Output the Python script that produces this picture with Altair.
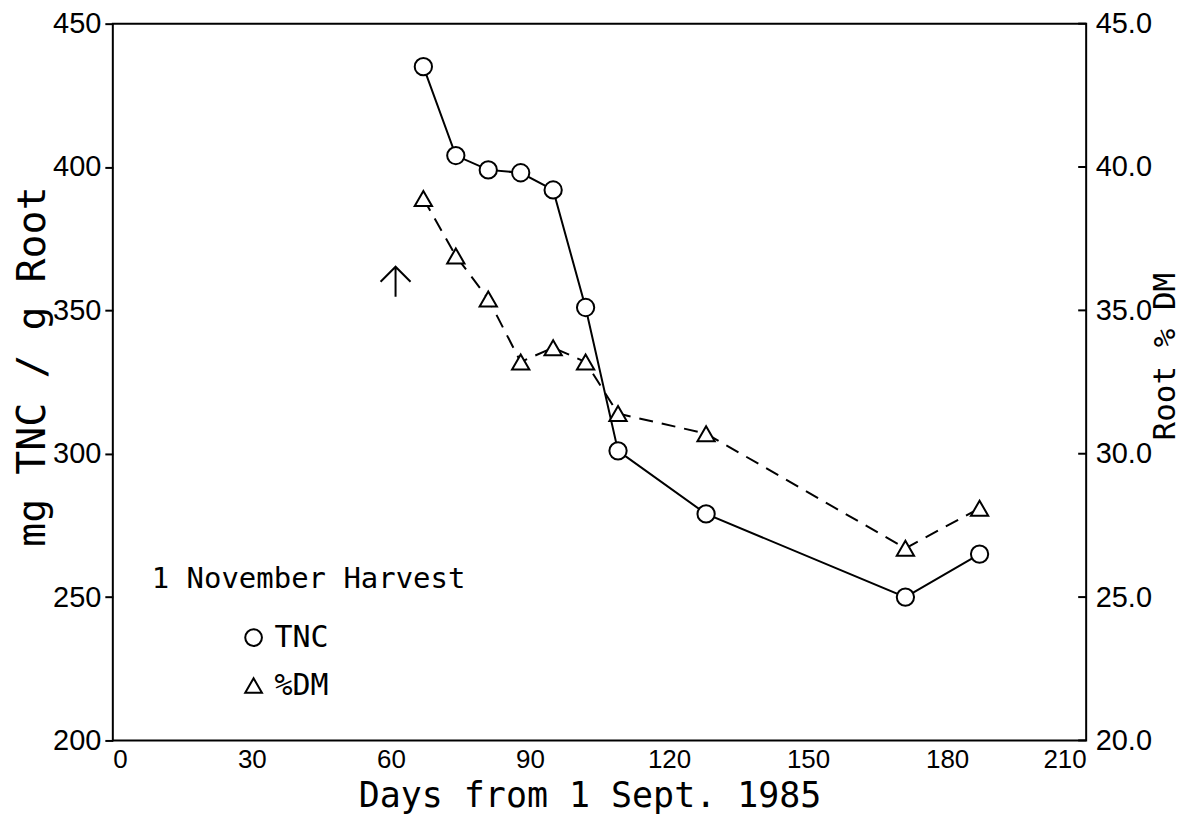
import altair as alt
import pandas as pd

# ---- data ----
days = [67, 74, 81, 88, 95, 102, 109, 128, 171, 187]
tnc = [435, 404, 399, 398, 392, 351, 301, 279, 250, 265]
dm = [38.9, 36.9, 35.4, 33.2, 33.7, 33.2, 31.4, 30.7, 26.7, 28.1]
series_names = ["TNC", "%DM"]

x_ticks = [0, 30, 60, 90, 120, 150, 180, 210]
left_ticks = [200, 250, 300, 350, 400, 450]
right_ticks = [20, 25, 30, 35, 40, 45]

arrow_day = [61]
arrow_val = [360]
note_text = ["1 November Harvest"]
note_day = [8.4]
note_val = [253]

NARROW = "Liberation Sans Narrow, Liberation Sans, sans-serif"
MONO = "DejaVu Sans Mono, monospace"

W, H = 975, 718

df_tnc = pd.DataFrame({"day": days, "val": tnc, "series": "TNC"})
df_dm = pd.DataFrame({"day": days, "val": dm, "series": "%DM"})
df_rt = pd.DataFrame({"val": right_ticks})
df_arrow = pd.DataFrame({"day": arrow_day, "val": arrow_val})
df_note = pd.DataFrame({"day": note_day, "val": note_val, "txt": note_text})

x_axis = alt.Axis(
    values=x_ticks, ticks=False, domain=False, grid=False,
    labelFont=NARROW, labelFontSize=26, labelPadding=6, labelColor="black",
    title="Days from 1 Sept. 1985", titleFont=MONO, titleFontSize=35,
    titleFontWeight="normal", titleColor="black",
    titleX=W / 2 - 10, titleY=66, titleAlign="center", titleBaseline="alphabetic",
)
left_axis = alt.Axis(
    orient="left", values=left_ticks, tickSize=8, tickWidth=2, tickColor="black",
    domain=False, grid=False,
    labelFont=NARROW, labelFontSize=29, labelPadding=4, labelColor="black",
    title="mg TNC / g Root", titleFont=MONO, titleFontSize=40,
    titleFontWeight="normal", titleColor="black", titleAngle=270,
    titleX=-80, titleY=H / 2 - 16, titleAlign="center", titleBaseline="middle",
)
right_axis = alt.Axis(
    orient="right", values=right_ticks, ticks=False, domain=False, grid=False,
    format=".1f",
    labelFont=NARROW, labelFontSize=29, labelPadding=9, labelColor="black",
    title="Root % DM", titleFont=MONO, titleFontSize=31,
    titleFontWeight="normal", titleColor="black", titleAngle=270,
    titleX=79, titleY=H / 2 - 26, titleAlign="center", titleBaseline="middle",
)

X = alt.X("day:Q", scale=alt.Scale(domain=[0, 210], nice=False, zero=False), axis=x_axis)
YL = alt.Y("val:Q", scale=alt.Scale(domain=[200, 450], nice=False, zero=False), axis=left_axis)
YR = alt.Y("val:Q", scale=alt.Scale(domain=[20, 45], nice=False, zero=False), axis=right_axis)

legend = alt.Legend(
    title=None, orient="none", legendX=126, legendY=600, padding=0,
    symbolSize=280, symbolStrokeWidth=2, symbolStrokeColor="black",
    symbolFillColor="white",
    labelFont=MONO, labelFontSize=30, labelColor="black",
    labelOffset=6, rowPadding=18,
)
SHAPE = alt.Shape(
    "series:N",
    scale=alt.Scale(domain=series_names, range=["circle", "triangle-up"]),
    legend=legend,
)


def marker_layers(df, y_enc, shape_name):
    bg = alt.Chart(df).mark_point(
        shape=shape_name, filled=True, color="white", size=300, opacity=1
    ).encode(x=X, y=y_enc)
    fg = alt.Chart(df).mark_point(
        filled=False, color="black", strokeWidth=2, size=300, opacity=1
    ).encode(x=X, y=y_enc, shape=SHAPE)
    return bg, fg


line_tnc = alt.Chart(df_tnc).mark_line(color="black", strokeWidth=2).encode(x=X, y=YL)
bg_tnc, fg_tnc = marker_layers(df_tnc, YL, "circle")
arrow = alt.Chart(df_arrow).mark_point(
    shape="M-1,0L0,-1L1,0M0,-1L0,1", filled=False, stroke="black",
    strokeWidth=2, size=900, opacity=1
).encode(x=X, y=YL)
note = alt.Chart(df_note).mark_text(
    font=MONO, fontSize=29, align="left", baseline="alphabetic", color="black"
).encode(x=X, y=YL, text="txt:N")

line_dm = alt.Chart(df_dm).mark_line(
    color="black", strokeWidth=2, strokeDash=[14, 9]
).encode(x=X, y=YR)
bg_dm, fg_dm = marker_layers(df_dm, YR, "triangle-up")
rticks = alt.Chart(df_rt).mark_rule(color="black", strokeWidth=2).encode(
    y=YR, x=alt.value(W - 8), x2=alt.value(W)
)

left = alt.layer(line_tnc, bg_tnc, fg_tnc, arrow, note)
right = alt.layer(line_dm, rticks, bg_dm, fg_dm)

chart = (
    alt.layer(left, right)
    .resolve_scale(y="independent")
    .properties(
        width=W, height=H,
        autosize=alt.AutoSizeParams(type="none"),
        padding={"left": 105, "top": 15, "right": 100, "bottom": 74},
        background="white",
    )
    .configure_view(stroke="black", strokeWidth=2)
)

chart.save("out.html", embed_options={"renderer": "svg", "actions": False})
